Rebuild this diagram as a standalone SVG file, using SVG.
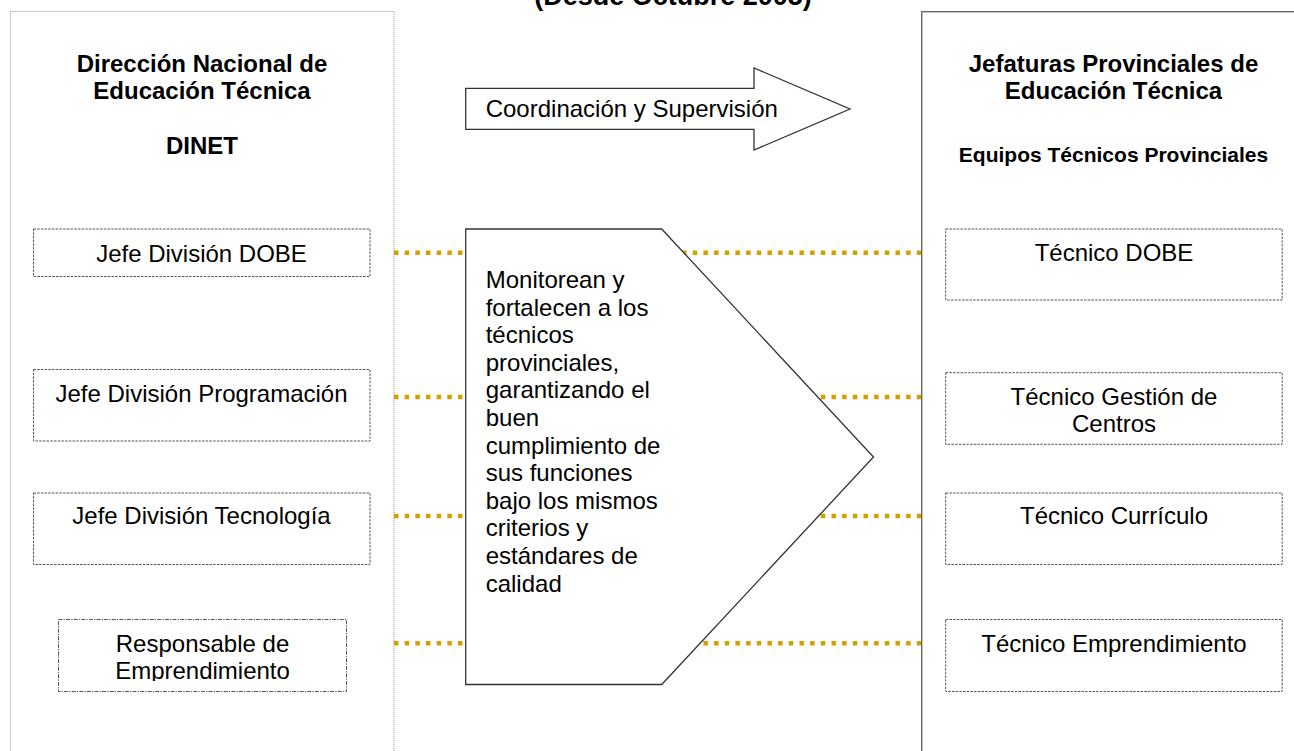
<svg xmlns="http://www.w3.org/2000/svg" width="1294" height="751" viewBox="0 0 1294 751">
<style>
text{font-family:"Liberation Sans",Arial,sans-serif;fill:#000}
.b{font-weight:bold;font-size:24px}
.r{font-size:24px}
.big{fill:#fff;stroke:#999;stroke-width:1;stroke-dasharray:1 1}
.bigR{fill:#fff;stroke:#666;stroke-width:1.4}
.sub{fill:#fff;stroke:#555;stroke-width:1;stroke-dasharray:2.5 1.2}
.subdd{fill:#fff;stroke:#555;stroke-width:1;stroke-dasharray:4 1.2 1.2 1.2}
.dots{stroke:#D4A000;stroke-width:4.5;stroke-dasharray:4.5 6.17;fill:none}
.shape{fill:#fff;stroke:#333;stroke-width:1.3}
</style>
<defs>
<clipPath id="clipResp"><rect x="58" y="619" width="289" height="62"/></clipPath>
</defs>
<rect width="1294" height="751" fill="#fff"/>
<text class="b" x="673" y="5" text-anchor="middle" font-size="27" style="font-size:27px">(Desde Octubre 2005)</text>

<g id="dinet">
<rect class="big" x="10.5" y="11.5" width="383.5" height="760"/>
<text class="b" x="202" y="72" text-anchor="middle">Dirección Nacional de</text>
<text class="b" x="202" y="99" text-anchor="middle">Educación Técnica</text>
<text class="b" x="202" y="154" text-anchor="middle">DINET</text>
</g>

<g id="jefaturas">
<rect class="bigR" x="921.7" y="11.7" width="400" height="760"/>
<text class="b" x="1113.5" y="72" text-anchor="middle">Jefaturas Provinciales de</text>
<text class="b" x="1113.5" y="99" text-anchor="middle">Educación Técnica</text>
<text class="b" x="1113.5" y="162" text-anchor="middle" style="font-size:21px">Equipos Técnicos Provinciales</text>
</g>

<g id="connectors">
<line class="dots" x1="394" y1="252.7" x2="921" y2="252.7"/>
<line class="dots" x1="394" y1="397" x2="921" y2="397"/>
<line class="dots" x1="394" y1="516" x2="921" y2="516"/>
<line class="dots" x1="394" y1="643.3" x2="921" y2="643.3"/>
</g>

<g id="coordinacion">
<polygon class="shape" points="465.7,88.3 754,88.3 754,68 850,109 754,150 754,129.3 465.7,129.3"/>
<text class="r" x="485.7" y="117">Coordinación y Supervisión</text>
</g>

<g id="monitorean">
<polygon class="shape" points="465.7,229 661.7,229 873.5,457 661.7,684.5 465.7,684.5"/>
<text class="r" x="485.7">
<tspan x="485.7" y="288">Monitorean y</tspan>
<tspan x="485.7" y="315.6">fortalecen a los</tspan>
<tspan x="485.7" y="343.2">técnicos</tspan>
<tspan x="485.7" y="370.8">provinciales,</tspan>
<tspan x="485.7" y="398.4">garantizando el</tspan>
<tspan x="485.7" y="426">buen</tspan>
<tspan x="485.7" y="453.6">cumplimiento de</tspan>
<tspan x="485.7" y="481.2">sus funciones</tspan>
<tspan x="485.7" y="508.8">bajo los mismos</tspan>
<tspan x="485.7" y="536.4">criterios y</tspan>
<tspan x="485.7" y="564">estándares de</tspan>
<tspan x="485.7" y="591.6">calidad</tspan>
</text>
</g>

<g id="jefe-dobe">
<rect class="sub" x="33.5" y="229" width="336.5" height="47.5"/>
<text class="r" x="201.5" y="261.5" text-anchor="middle">Jefe División DOBE</text>
</g>
<g id="jefe-programacion">
<rect class="sub" x="33.5" y="369.5" width="336.5" height="71.5"/>
<text class="r" x="201.5" y="401.5" text-anchor="middle">Jefe División Programación</text>
</g>
<g id="jefe-tecnologia">
<rect class="sub" x="33.5" y="493" width="336.5" height="71.5"/>
<text class="r" x="201.5" y="524" text-anchor="middle">Jefe División Tecnología</text>
</g>
<g id="responsable-emprendimiento">
<rect class="subdd" x="58.5" y="619.5" width="288" height="72"/>
<g clip-path="url(#clipResp)">
<text class="r" x="202.5" y="651.5" text-anchor="middle">Responsable de</text>
<text class="r" x="202.5" y="679" text-anchor="middle">Emprendimiento</text>
</g>
</g>

<g id="tecnico-dobe">
<rect class="sub" x="945.7" y="229" width="336.5" height="71"/>
<text class="r" x="1114" y="261" text-anchor="middle">Técnico DOBE</text>
</g>
<g id="tecnico-gestion">
<rect class="sub" x="945.7" y="372.7" width="336.5" height="71.6"/>
<text class="r" x="1114" y="404.5" text-anchor="middle">Técnico Gestión de</text>
<text class="r" x="1114" y="432.3" text-anchor="middle">Centros</text>
</g>
<g id="tecnico-curriculo">
<rect class="sub" x="945.7" y="493" width="336.5" height="71.5"/>
<text class="r" x="1114" y="524" text-anchor="middle">Técnico Currículo</text>
</g>
<g id="tecnico-emprendimiento">
<rect class="sub" x="945.7" y="619.5" width="336.5" height="72"/>
<text class="r" x="1114" y="651.7" text-anchor="middle">Técnico Emprendimiento</text>
</g>
</svg>
